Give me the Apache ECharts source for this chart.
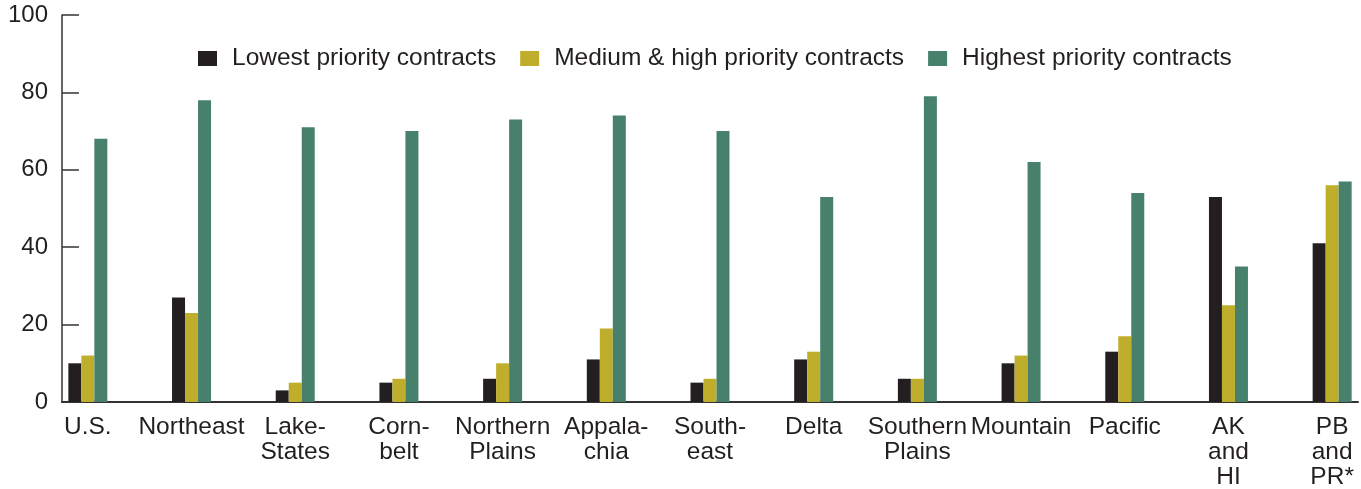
<!DOCTYPE html>
<html lang="en">
<head>
    <meta charset="UTF-8">
    <title>contracts by region</title>
    <script src="https://cdn.jsdelivr.net/npm/echarts@6/dist/echarts.min.js"></script>
    <style>
        html, body { margin: 0; padding: 0; background: #fff; }
        #main { width: 1361px; height: 489px; }
    </style>
</head>
<body>
<div id="main"></div>
<script type="text/javascript">
    // categories and values
    var regions = ['U.S.', 'Northeast', 'Lake-\nStates', 'Corn-\nbelt', 'Northern\nPlains', 'Appala-\nchia',
        'South-\neast', 'Delta', 'Southern\nPlains', 'Mountain', 'Pacific', 'AK\nand\nHI', 'PB\nand\nPR*'];
    var lowest = [10, 27, 3, 5, 6, 11, 5, 11, 6, 10, 13, 53, 41];
    var mediumHigh = [12, 23, 5, 6, 10, 19, 6, 13, 6, 12, 17, 25, 56];
    var highest = [68, 78, 71, 70, 73, 74, 70, 53, 79, 62, 54, 35, 57];
    var yTicks = [0, 20, 40, 60, 80, 100];

    var font = "'Liberation Sans', Arial, Helvetica, sans-serif";
    var ink = '#231f20';

    var myChart = echarts.init(document.getElementById('main'));

    var barSeries = function (name, data, color) {
        return {
            name: name,
            type: 'bar',
            xAxisIndex: 1,
            yAxisIndex: 1,
            data: data,
            barWidth: 13,
            barGap: '0%',
            itemStyle: {color: color},
            emphasis: {disabled: true}
        };
    };

    var option = {
        backgroundColor: '#fff',
        animation: false,
        textStyle: {fontFamily: font},
        legend: {
            left: 193,
            top: 41,
            itemWidth: 19,
            itemHeight: 15,
            itemGap: 24,
            icon: 'rect',
            selectedMode: false,
            textStyle: {fontSize: 24.5, color: ink, fontFamily: font, padding: [0, 0, 0, 10]},
            data: ['Lowest priority contracts', 'Medium & high priority contracts', 'Highest priority contracts']
        },
        grid: [
            // frame: the axis lines and the y scale
            {left: 62, right: 3, top: 15, bottom: 87, outerBoundsMode: 'none'},
            // bars: bands are offset so each group sits where it does in the picture
            {left: 36, width: 1348, top: 15, bottom: 87, outerBoundsMode: 'none'}
        ],
        xAxis: [
            {
                type: 'value', gridIndex: 0, min: 0, max: 1,
                axisLine: {show: true, lineStyle: {color: '#333', width: 2}},
                axisTick: {show: false}, axisLabel: {show: false}, splitLine: {show: false}
            },
            {
                type: 'category', gridIndex: 1, data: regions, boundaryGap: true,
                axisLine: {show: false}, axisTick: {show: false}, splitLine: {show: false},
                axisLabel: {
                    interval: 0, margin: 13, fontSize: 24.5, lineHeight: 25,
                    color: ink, fontFamily: font, align: 'center'
                }
            }
        ],
        yAxis: [
            {
                type: 'value', gridIndex: 0, min: yTicks[0], max: yTicks[yTicks.length - 1], interval: 20,
                axisLine: {show: true, lineStyle: {color: '#333', width: 1.5}},
                axisTick: {show: true, inside: true, length: 17, lineStyle: {color: '#333', width: 1.5}},
                axisLabel: {margin: 14, fontSize: 24, color: ink, fontFamily: font},
                splitLine: {show: false}
            },
            {
                type: 'value', gridIndex: 1, min: yTicks[0], max: yTicks[yTicks.length - 1], show: false
            }
        ],
        series: [
            barSeries('Lowest priority contracts', lowest, '#231f20'),
            barSeries('Medium & high priority contracts', mediumHigh, '#bfae2c'),
            barSeries('Highest priority contracts', highest, '#48816b')
        ]
    };

    myChart.setOption(option);
</script>
</body>
</html>
